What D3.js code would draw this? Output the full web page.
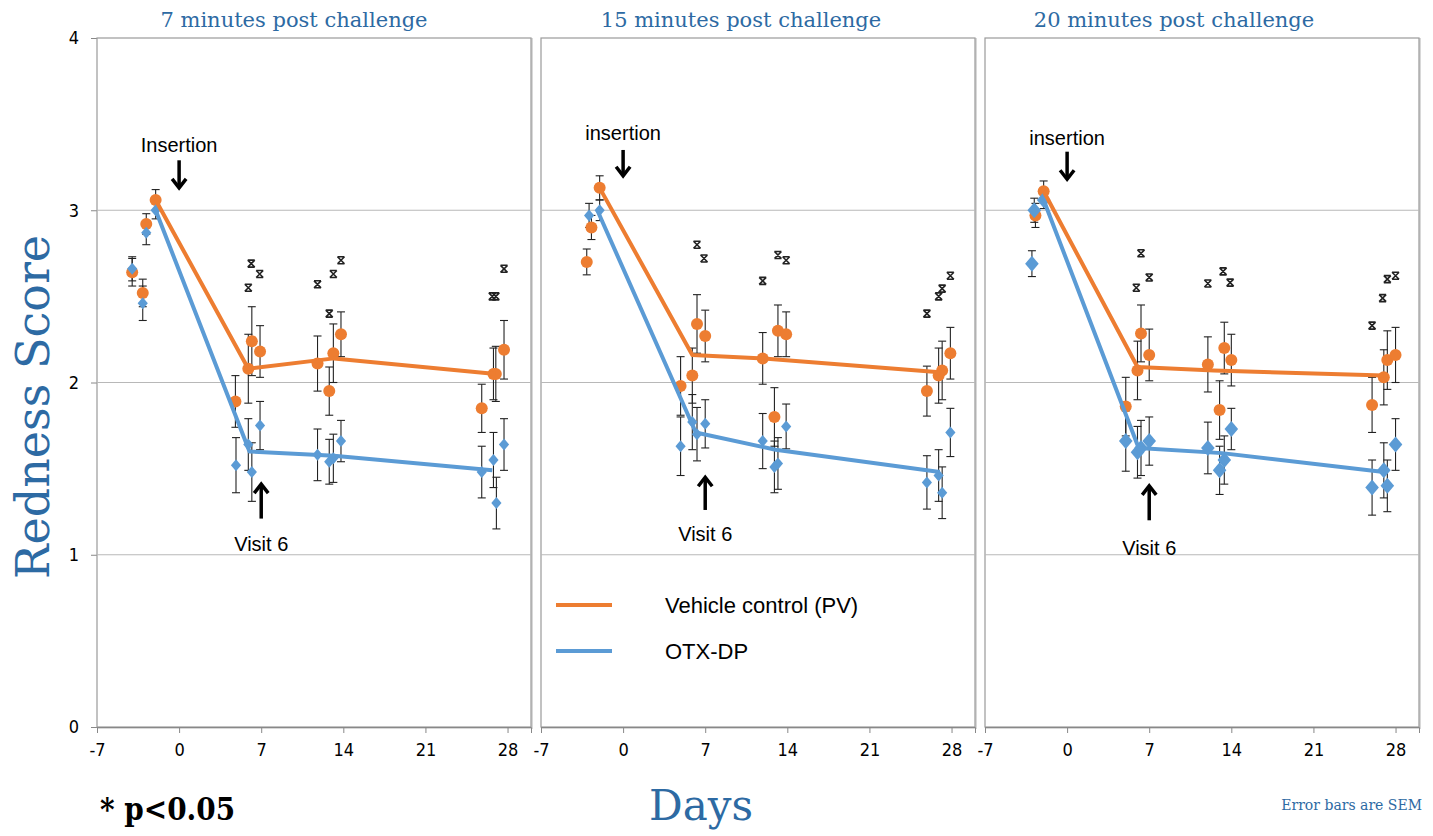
<!DOCTYPE html>
<html>
<head>
<meta charset="utf-8">
<script src="https://cdn.jsdelivr.net/npm/d3@7"></script>
<style>
body { margin: 0; background: #fff; }
</style>
</head>
<body>
<svg id="chart" width="1433" height="836"></svg>
<script>
var panelTitles = ["7 minutes post challenge", "15 minutes post challenge", "20 minutes post challenge"];
var dayTicks = [-7, 0, 7, 14, 21, 28];
var scoreTicks = [0, 1, 2, 3, 4];
var insertionLabels = ["Insertion", "insertion", "insertion"];

// mean lines, [day, score]
var vehicleMean = [
    [[-2, 3.06], [5.9, 2.08], [13.2, 2.14], [27, 2.05]],
    [[-2, 3.13], [5.9, 2.16], [12, 2.14], [27, 2.06]],
    [[-2, 3.11], [6, 2.09], [12.5, 2.07], [27, 2.04]]
];
var otxMean = [
    [[-2, 3.0], [6, 1.6], [13.2, 1.575], [26.7, 1.49]],
    [[-2.2, 3.0], [6.2, 1.71], [13, 1.61], [27, 1.48]],
    [[-2, 3.06], [6.1, 1.62], [13.2, 1.59], [27, 1.48]]
];

// visit points, [day, score, sem]
var vehiclePts = [
    [[-4, 2.64, 0.08], [-3.1, 2.52, 0.08], [-2.8, 2.92, 0.06], [-2, 3.06, 0.06], [4.8, 1.89, 0.15], [5.9, 2.08, 0.2],
     [6.2, 2.24, 0.2], [6.9, 2.18, 0.15], [11.8, 2.11, 0.16], [12.8, 1.95, 0.14], [13.15, 2.17, 0.17], [13.8, 2.28, 0.13],
     [25.8, 1.85, 0.14], [26.8, 2.05, 0.15], [27, 2.05, 0.16], [27.7, 2.19, 0.17]],
    [[-3.1, 2.70, 0.075], [-2.7, 2.90, 0.07], [-2, 3.13, 0.07], [4.9, 1.98, 0.17], [5.9, 2.04, 0.16], [6.3, 2.34, 0.17],
     [7, 2.27, 0.15], [11.9, 2.14, 0.15], [12.9, 1.80, 0.17], [13.2, 2.30, 0.15], [13.9, 2.28, 0.13], [25.9, 1.95, 0.145],
     [26.9, 2.04, 0.16], [27.2, 2.07, 0.17], [27.9, 2.17, 0.15]],
    [[-2.7, 2.97, 0.07], [-2, 3.11, 0.06], [5, 1.86, 0.17], [6, 2.07, 0.17], [6.3, 2.285, 0.165], [7, 2.16, 0.15],
     [12, 2.105, 0.16], [13, 1.84, 0.17], [13.4, 2.2, 0.15], [14, 2.13, 0.15], [26, 1.87, 0.16], [27, 2.03, 0.16],
     [27.3, 2.13, 0.17], [28, 2.16, 0.16]]
];
var otxPts = [
    [[-4, 2.66, 0.07], [-3.1, 2.46, 0.1], [-2.8, 2.87, 0.07], [-2, 3.0, 0.05], [4.85, 1.52, 0.16], [5.9, 1.64, 0.15],
     [6.2, 1.48, 0.17], [6.9, 1.75, 0.14], [11.8, 1.58, 0.15], [12.8, 1.54, 0.13], [13.15, 1.56, 0.14], [13.8, 1.66, 0.12],
     [25.8, 1.48, 0.15], [26.8, 1.55, 0.16], [27.05, 1.30, 0.15], [27.7, 1.64, 0.15]],
    [[-2.9, 2.97, 0.07], [-2, 3.0, 0.06], [4.9, 1.63, 0.17], [5.9, 1.77, 0.16], [6.3, 1.70, 0.155], [7, 1.76, 0.14],
     [11.9, 1.66, 0.16], [12.9, 1.51, 0.15], [13.2, 1.53, 0.15], [13.9, 1.745, 0.13], [25.9, 1.42, 0.155], [26.9, 1.46, 0.15],
     [27.2, 1.36, 0.15], [27.9, 1.71, 0.14]],
    [[-3, 2.69, 0.075], [-2.8, 3.0, 0.07], [-2, 3.06, 0.05], [5, 1.66, 0.175], [6, 1.595, 0.15], [6.3, 1.62, 0.16],
     [7, 1.66, 0.14], [12, 1.62, 0.15], [13, 1.49, 0.14], [13.4, 1.55, 0.14], [14, 1.73, 0.12], [26, 1.39, 0.16],
     [27, 1.49, 0.16], [27.3, 1.40, 0.15], [28, 1.64, 0.15]]
];
// significance marks, [day, score]
var sigMarks = [
    [[5.9, 2.55], [6.15, 2.69], [6.87, 2.63], [11.8, 2.57], [12.8, 2.40], [13.15, 2.63], [13.8, 2.71], [26.7, 2.50], [27, 2.50], [27.7, 2.66]],
    [[6.3, 2.80], [6.9, 2.72], [11.9, 2.59], [13.2, 2.74], [13.9, 2.71], [25.9, 2.40], [26.9, 2.50], [27.2, 2.545], [27.9, 2.62]],
    [[5.9, 2.55], [6.3, 2.75], [7, 2.61], [12, 2.575], [13.3, 2.645], [13.9, 2.58], [26, 2.33], [26.9, 2.49], [27.3, 2.60], [28, 2.62]]
];

var orange = "#ed7d31";
var blue = "#5b9bd5";
var titleBlue = "#2d6aa3";

var panelLeft = [97, 541, 985];
var panelW = 434;
var plotTop = 38, plotBottom = 727;
var titleShift = [-20, -17, -28];

var svg = d3.select("#chart");

var y = d3.scaleLinear().domain([0, 4]).range([plotBottom, plotTop]);

var tickFont = "'Liberation Sans Narrow', 'DejaVu Sans Condensed', sans-serif";
var serifFont = "'DejaVu Serif', 'Liberation Serif', serif";

// y axis on first panel
var yAxis = d3.axisLeft(y).tickValues(scoreTicks).tickSize(6).tickFormat(function (d) { return String(d); });
var gy = svg.append("g").attr("transform", "translate(" + panelLeft[0] + ",0)").call(yAxis);
gy.select(".domain").attr("stroke", "#888");
gy.selectAll(".tick line").attr("stroke", "#888");
gy.selectAll(".tick text")
    .attr("x", -18)
    .style("font-family", tickFont)
    .style("font-size", "18px")
    .attr("fill", "#000");

panelTitles.forEach(function (title, i) {
    var x = d3.scaleLinear().domain([-7, 30]).range([panelLeft[i], panelLeft[i] + panelW]);
    var g = svg.append("g");

    // frame
    g.append("rect")
        .attr("x", panelLeft[i] + 1).attr("y", plotTop + 1)
        .attr("width", panelW).attr("height", plotBottom - plotTop)
        .attr("fill", "none").attr("stroke", "#d8d8d8").attr("stroke-width", 2);
    g.append("rect")
        .attr("x", panelLeft[i]).attr("y", plotTop)
        .attr("width", panelW).attr("height", plotBottom - plotTop)
        .attr("fill", "#fff").attr("stroke", "#9a9a9a").attr("stroke-width", 1.2);

    // grid
    g.selectAll(".grid")
        .data([1, 2, 3])
        .enter().append("line")
        .attr("x1", panelLeft[i]).attr("x2", panelLeft[i] + panelW)
        .attr("y1", function (d) { return y(d); })
        .attr("y2", function (d) { return y(d); })
        .attr("stroke", "#b8b8b8").attr("stroke-width", 1.2);

    // x axis
    var xAxis = d3.axisBottom(x).tickValues(dayTicks).tickSize(6).tickPadding(10)
        .tickFormat(function (d) { return String(d); });
    var gx = g.append("g").attr("transform", "translate(0," + plotBottom + ")").call(xAxis);
    gx.select(".domain").attr("stroke", "#888");
    gx.selectAll(".tick line").attr("stroke", "#888");
    gx.selectAll(".tick text")
        .style("font-family", tickFont)
        .style("font-size", "18px")
        .attr("fill", "#000");

    // title
    g.append("text")
        .attr("x", x(-7) + panelW / 2 + titleShift[i]).attr("y", 27)
        .attr("text-anchor", "middle")
        .style("font-family", serifFont)
        .style("font-size", "21px")
        .attr("fill", titleBlue)
        .text(title);

    // error bars
    function errBars(pts) {
        var eb = g.append("g").attr("stroke", "#222").attr("stroke-width", 1.1);
        pts.forEach(function (p) {
            var cx = x(p[0]);
            eb.append("line").attr("x1", cx).attr("x2", cx).attr("y1", y(p[1] - p[2])).attr("y2", y(p[1] + p[2]));
            eb.append("line").attr("x1", cx - 4).attr("x2", cx + 4).attr("y1", y(p[1] - p[2])).attr("y2", y(p[1] - p[2]));
            eb.append("line").attr("x1", cx - 4).attr("x2", cx + 4).attr("y1", y(p[1] + p[2])).attr("y2", y(p[1] + p[2]));
        });
    }
    errBars(vehiclePts[i]);
    errBars(otxPts[i]);

    // significance marks
    var sig = g.append("g").attr("stroke", "#222").attr("stroke-width", 1.6).attr("fill", "none");
    sigMarks[i].forEach(function (p) {
        var cx = x(p[0]), cy = y(p[1]), s = 3.5;
        sig.append("path").attr("d",
            "M" + (cx - s) + "," + (cy - s) + "L" + (cx + s) + "," + (cy + s) +
            "M" + (cx + s) + "," + (cy - s) + "L" + (cx - s) + "," + (cy + s) +
            "M" + (cx - s) + "," + (cy - s) + "L" + (cx + s) + "," + (cy - s) +
            "M" + (cx - s) + "," + (cy + s) + "L" + (cx + s) + "," + (cy + s));
    });

    // markers
    g.selectAll(".veh")
        .data(vehiclePts[i])
        .enter().append("circle")
        .attr("cx", function (d) { return x(d[0]); })
        .attr("cy", function (d) { return y(d[1]); })
        .attr("r", 6)
        .attr("fill", orange);

    var dsz = i === 2 ? 8 : 6;
    g.selectAll(".otx")
        .data(otxPts[i])
        .enter().append("path")
        .attr("d", function (d) {
            var cx = x(d[0]), cy = y(d[1]);
            return "M" + cx + "," + (cy - dsz) + "L" + (cx + dsz * 0.85) + "," + cy +
                "L" + cx + "," + (cy + dsz) + "L" + (cx - dsz * 0.85) + "," + cy + "Z";
        })
        .attr("fill", blue);

    // mean lines
    var line = d3.line().x(function (d) { return x(d[0]); }).y(function (d) { return y(d[1]); });
    g.append("path").datum(vehicleMean[i]).attr("d", line)
        .attr("fill", "none").attr("stroke", orange).attr("stroke-width", 4).attr("stroke-linejoin", "round");
    g.append("path").datum(otxMean[i]).attr("d", line)
        .attr("fill", "none").attr("stroke", blue).attr("stroke-width", 4).attr("stroke-linejoin", "round");

    // annotations
    var insY = [3.34, 3.41, 3.38][i];
    var insArrow = [[3.29, 3.13], [3.35, 3.2], [3.34, 3.18]][i];
    var visY = [1.02, 1.08, 1.0][i];
    var visArrow = [[1.21, 1.41], [1.26, 1.45], [1.2, 1.4]][i];
    var annoFont = "'Liberation Sans', Arial, sans-serif";

    g.append("text").attr("x", x(0)).attr("y", y(insY))
        .attr("text-anchor", "middle")
        .style("font-family", annoFont).style("font-size", "20px")
        .text(insertionLabels[i]);
    drawArrow(g, x(0), y(insArrow[0]), y(insArrow[1]));

    g.append("text").attr("x", x(7)).attr("y", y(visY))
        .attr("text-anchor", "middle")
        .style("font-family", annoFont).style("font-size", "20px")
        .text("Visit 6");
    drawArrow(g, x(7), y(visArrow[0]), y(visArrow[1]));
});

function drawArrow(g, ax, y0, y1) {
    var dir = y1 > y0 ? 1 : -1;
    g.append("line").attr("x1", ax).attr("x2", ax).attr("y1", y0).attr("y2", y1 - dir * 2)
        .attr("stroke", "#000").attr("stroke-width", 3.5);
    g.append("path")
        .attr("d", "M" + (ax - 7) + "," + (y1 - dir * 9) + "L" + ax + "," + y1 + "L" + (ax + 7) + "," + (y1 - dir * 9))
        .attr("fill", "none").attr("stroke", "#000").attr("stroke-width", 3.5);
}

// legend
var legend = svg.append("g");
var legendItems = [["Vehicle control (PV)", orange, 605], ["OTX-DP", blue, 651]];
legendItems.forEach(function (d) {
    legend.append("line").attr("x1", 556).attr("x2", 612).attr("y1", d[2]).attr("y2", d[2])
        .attr("stroke", d[1]).attr("stroke-width", 4);
    legend.append("text").attr("x", 665).attr("y", d[2] + 8)
        .style("font-family", "'Liberation Sans', Arial, sans-serif").style("font-size", "22px")
        .text(d[0]);
});

// axis titles and notes
svg.append("text")
    .attr("transform", "translate(49,407) rotate(-90)")
    .attr("text-anchor", "middle")
    .style("font-family", serifFont)
    .style("font-size", "46px")
    .attr("fill", titleBlue)
    .text("Redness Score");

svg.append("text")
    .attr("x", 701).attr("y", 820)
    .attr("text-anchor", "middle")
    .style("font-family", serifFont)
    .style("font-size", "42px")
    .attr("fill", titleBlue)
    .text("Days");

svg.append("text")
    .attr("x", 100).attr("y", 820)
    .style("font-family", "'DejaVu Serif Condensed', 'Liberation Serif', serif")
    .style("font-size", "31px")
    .style("font-weight", "bold")
    .attr("fill", "#000")
    .text("* p<0.05");

svg.append("text")
    .attr("x", 1422).attr("y", 810)
    .attr("text-anchor", "end")
    .style("font-family", serifFont)
    .style("font-size", "14px")
    .attr("fill", titleBlue)
    .text("Error bars are SEM");
</script>
</body>
</html>
